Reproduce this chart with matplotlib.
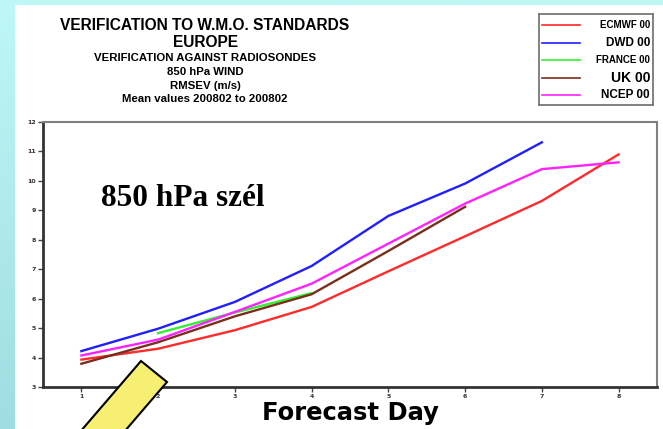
import numpy as np
import matplotlib
matplotlib.use("Agg")
import matplotlib.pyplot as plt
from matplotlib.patches import Rectangle, Polygon

# data (RMSEV, m/s)
days = [1, 2, 3, 4, 5, 6, 7, 8]
ecmwf = [3.93, 4.30, 4.93, 5.72, 6.93, 8.12, 9.32, 10.90]
dwd = [4.22, 4.98, 5.89, 7.11, 8.81, 9.91, 11.31]
france_days = [2, 3, 4]
france = [4.83, 5.53, 6.19]
uk = [3.79, 4.52, 5.40, 6.15, 7.62, 9.12]
ncep = [4.07, 4.61, 5.55, 6.51, 7.87, 9.23, 10.40, 10.63]

labels = ['ECMWF 00', 'DWD 00', 'FRANCE 00', 'UK 00', 'NCEP 00']
colors = ['#ff2a2a', '#1f1fff', '#33f033', '#7a2e1c', '#ff22ff']
label_sizes = [7, 8.5, 7, 10, 8.5]

title_lines = ['VERIFICATION TO W.M.O. STANDARDS', 'EUROPE',
               'VERIFICATION AGAINST RADIOSONDES', '850 hPa WIND',
               'RMSEV (m/s)', 'Mean values 200802 to 200802']
title_sizes = [11.2, 11.2, 8.2, 8.2, 8.2, 8.2]
title_baselines = [30, 47, 61, 75, 89, 102]

W, H = 663, 429
fig = plt.figure(figsize=(W / 100, H / 100), dpi=100)


def px(x, y):
    # pixel position (from top-left) -> figure fraction
    return x / W, 1 - y / H


# slide background: cyan gradient, white panel on top
bg = fig.add_axes([0, 0, 1, 1], zorder=-10)
grad = np.linspace(0, 1, 256).reshape(-1, 1)
cmap = matplotlib.colors.LinearSegmentedColormap.from_list('bg', ['#bff7f7', '#9fdde2'])
bg.imshow(grad, aspect='auto', cmap=cmap, extent=[0, 1, 0, 1], origin='upper')
bg.add_patch(Rectangle((15 / W, 0), 1, 1 - 5 / H, facecolor='white', edgecolor='none',
                       transform=bg.transAxes))
bg.set_xlim(0, 1)
bg.set_ylim(0, 1)
bg.axis('off')

# main plot
l, b = px(43, 387)
r, t = px(657, 122)
ax = fig.add_axes([l, b, r - l, t - b])
ax.set_facecolor('none')

series = [(days, ecmwf), (days[:len(dwd)], dwd), (france_days, france),
          (days[:len(uk)], uk), (days, ncep)]
for (x, y), c in zip(series, colors):
    ax.plot(x, y, color=c, lw=1.7, solid_joinstyle='round')

ax.set_xlim(0.5, 8.5)
ax.set_ylim(3, 12)
ax.set_xticks(days)
ax.set_yticks(range(3, 13))
ax.tick_params(direction='out', length=3.5, width=1, color='#444444',
               labelsize=4.5, labelcolor='#333333', pad=1.5)
for lab in ax.get_xticklabels() + ax.get_yticklabels():
    lab.set_fontweight('bold')
for side in ['left', 'bottom']:
    ax.spines[side].set_color('#333333')
    ax.spines[side].set_linewidth(2)
for side in ['top', 'right']:
    ax.spines[side].set_color('#808080')
    ax.spines[side].set_linewidth(1.5)

ax.text(*px(101, 206), '850 hPa szél', transform=fig.transFigure,
        family='Liberation Serif', fontweight='bold', fontsize=22.5,
        ha='left', va='baseline')

fig.text(*px(350, 420), 'Forecast Day', family='DejaVu Sans', fontweight='bold',
         fontsize=17.5, ha='center', va='baseline')

# title block
for line, size, base in zip(title_lines, title_sizes, title_baselines):
    fig.text(*px(205, base), line, family='Liberation Sans', fontweight='bold',
             fontsize=size, ha='center', va='baseline')

# legend box drawn by hand (labels are right aligned, different sizes)
lg_l, lg_b = px(539, 105)
lg_r, lg_t = px(653, 14)
lg = fig.add_axes([lg_l, lg_b, lg_r - lg_l, lg_t - lg_b])
lg.set_xlim(539, 653)
lg.set_ylim(105, 14)
lg.set_xticks([])
lg.set_yticks([])
for s in lg.spines.values():
    s.set_color('#777777')
    s.set_linewidth(1.3)
entry_y = np.linspace(25, 95, len(labels))
for yy, lab, c, fs in zip(entry_y, labels, colors, label_sizes):
    lg.plot([542, 580], [yy, yy], color=c, lw=1.2)
    lg.text(650, yy, lab, ha='right', va='center', family='Liberation Sans',
            fontweight='bold', fontsize=fs)

# yellow block arrow at the bottom left
arrow = Polygon([px(141, 361), px(167, 382), px(100, 460), px(74, 439)],
                closed=True, transform=fig.transFigure, facecolor='#f6ef72',
                edgecolor='black', lw=1.5, zorder=20, clip_on=False)
fig.patches.append(arrow)

fig.savefig('out.png', dpi=100)
